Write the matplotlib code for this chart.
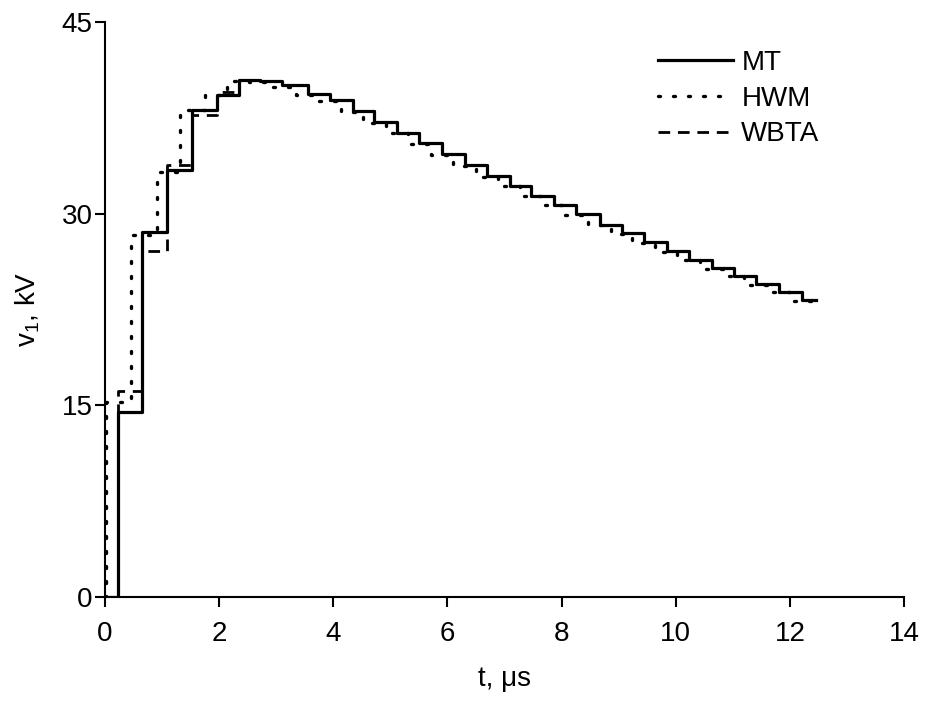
import matplotlib
matplotlib.use("Agg")
import matplotlib.pyplot as plt

plt.rcParams['font.family'] = ['Liberation Sans', 'DejaVu Sans']
plt.rcParams['mathtext.fontset'] = 'custom'
plt.rcParams['mathtext.rm'] = 'Liberation Sans'
plt.rcParams['mathtext.it'] = 'Liberation Sans'

# MT (solid) step edges (µs) and levels (kV)
mt_t = [0, 0.22, 0.64, 1.08, 1.52, 1.96, 2.34, 2.72, 3.10, 3.55, 3.95, 4.34, 4.72,
        5.12, 5.51, 5.91, 6.30, 6.70, 7.09, 7.47, 7.87, 8.26, 8.67, 9.06, 9.44,
        9.84, 10.23, 10.63, 11.02, 11.40, 11.81, 12.22, 12.46]
mt_v = [0, 14.5, 28.6, 33.4, 38.1, 39.3, 40.5, 40.35, 40.05, 39.4, 38.9, 38.0, 37.2,
        36.35, 35.5, 34.65, 33.8, 32.95, 32.2, 31.4, 30.7, 29.95, 29.15, 28.45, 27.75,
        27.05, 26.4, 25.75, 25.15, 24.5, 23.9, 23.25, 23.25]

# HWM (dotted)
hwm_t = [0, 0.02, 0.46, 0.91, 1.32, 1.75, 2.13, 2.52, 2.90, 3.35, 3.75, 4.14, 4.52,
         4.92, 5.31, 5.71, 6.10, 6.50, 6.89, 7.27, 7.67, 8.06, 8.47, 8.86, 9.24,
         9.64, 10.03, 10.43, 10.82, 11.20, 11.61, 12.02, 12.46]
hwm_v = [0, 15.3, 28.3, 33.3, 38.1, 39.3, 40.4, 40.3, 39.95, 39.3, 38.8, 37.95, 37.1,
         36.3, 35.45, 34.6, 33.75, 32.9, 32.15, 31.35, 30.65, 29.9, 29.1, 28.4, 27.7,
         27.0, 26.35, 25.7, 25.1, 24.45, 23.85, 23.2, 23.2]

# WBTA (dashed)
wbta_t = [0, 0.22, 0.64, 1.08, 1.52, 1.96, 2.34, 2.72, 3.10, 3.55, 3.95, 4.34, 4.72,
          5.12, 5.51, 5.91, 6.30, 6.70, 7.09, 7.47, 7.87, 8.26, 8.67, 9.06, 9.44,
          9.84, 10.23, 10.63, 11.02, 11.40, 11.81, 12.22, 12.46]
wbta_v = [0, 16.1, 27.1, 33.8, 37.7, 39.5, 40.5, 40.35, 40.05, 39.4, 38.9, 38.0, 37.2,
          36.35, 35.5, 34.65, 33.8, 32.95, 32.2, 31.4, 30.7, 29.95, 29.15, 28.45, 27.75,
          27.05, 26.4, 25.75, 25.15, 24.5, 23.9, 23.25, 23.25]

x_ticks = [0, 2, 4, 6, 8, 10, 12, 14]
y_ticks = [0, 15, 30, 45]

fig = plt.figure(figsize=(9.25, 7.04), dpi=100)
ax = fig.add_axes([105/925, 1 - 597/704, 799/925, 575/704])

ax.plot(hwm_t, hwm_v, drawstyle='steps-post', color='black', lw=2.4,
        linestyle=(0, (0.6, 3.9)), dash_capstyle='round', label='HWM', zorder=2)
ax.plot(wbta_t, wbta_v, drawstyle='steps-post', color='black', lw=2.0,
        linestyle=(0, (4.2, 2.8)), label='WBTA', zorder=2)
ax.plot(mt_t, mt_v, drawstyle='steps-post', color='black', lw=2.3,
        linestyle='-', label='MT', zorder=3)

ax.set_xlim(0, 14)
ax.set_ylim(0, 45)
ax.set_xticks(x_ticks)
ax.set_yticks(y_ticks)
for s in ['top', 'right']:
    ax.spines[s].set_visible(False)
for s in ['left', 'bottom']:
    ax.spines[s].set_linewidth(1.5)
ax.tick_params(axis='both', direction='out', length=7, width=1.5, labelsize=20)
ax.tick_params(axis='x', pad=10)
ax.tick_params(axis='y', pad=2)

ax.set_xlabel('t, μs', fontsize=20, labelpad=14)
ax.set_ylabel(r'v$_1$, kV', fontsize=20, labelpad=14)

h, l = ax.get_legend_handles_labels()
order = [l.index('MT'), l.index('HWM'), l.index('WBTA')]
ax.legend([h[i] for i in order], [l[i] for i in order], loc='upper left',
          bbox_to_anchor=((658 - 105) / 799, (597 - 50) / 575), frameon=False,
          fontsize=20, handlelength=2.7, handletextpad=0.3, labelspacing=0.35,
          borderpad=0, borderaxespad=0)

fig.savefig('out.png', dpi=100)
